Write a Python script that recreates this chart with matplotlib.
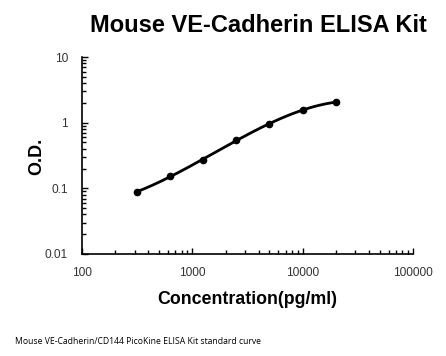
import numpy as np
import matplotlib
matplotlib.use("Agg")
import matplotlib.pyplot as plt
from matplotlib.ticker import LogLocator, FixedLocator, NullFormatter

conc = [312.5, 625, 1250, 2500, 5000, 10000, 20000]
od = [0.088, 0.152, 0.271, 0.545, 0.953, 1.57, 2.05]
xticks = [100, 1000, 10000, 100000]
xticklabels = ["100", "1000", "10000", "100000"]
yticks = [0.01, 0.1, 1, 10]
yticklabels = ["0.01", "0.1", "1", "10"]

plt.rcParams['font.family'] = ['Liberation Sans', 'DejaVu Sans']

fig = plt.figure(figsize=(4.46, 3.56), dpi=100)
ax = fig.add_axes([82/446, 1 - 254/356, (413-82)/446, (254-57)/356])

lx = np.log10(conc)
ly = np.log10(od)
coef = np.polyfit(lx, ly, 3)
xs = np.linspace(lx.min(), lx.max(), 200)
ax.plot(10**xs, 10**np.polyval(coef, xs), color='black', lw=2, zorder=2)
ax.plot(conc, od, 'o', color='black', ms=4.5, zorder=3)

ax.set_xscale('log')
ax.set_yscale('log')
ax.set_xlim(100, 100000)
ax.set_ylim(0.01, 10)
ax.xaxis.set_major_locator(FixedLocator(xticks))
ax.set_xticklabels(xticklabels)
ax.yaxis.set_major_locator(FixedLocator(yticks))
ax.set_yticklabels(yticklabels)
ax.xaxis.set_minor_locator(LogLocator(base=10, subs=np.arange(2, 10)))
ax.yaxis.set_minor_locator(LogLocator(base=10, subs=np.arange(2, 10)))
ax.xaxis.set_minor_formatter(NullFormatter())
ax.yaxis.set_minor_formatter(NullFormatter())

for s in ['top', 'right']:
    ax.spines[s].set_visible(False)
for s in ['left', 'bottom']:
    ax.spines[s].set_linewidth(1.2)
ax.tick_params(which='both', direction='in', width=1, colors='black')
ax.tick_params(which='major', length=4, labelsize=8.6, labelcolor='#333333')
ax.tick_params(which='minor', length=3)
ax.tick_params(axis='x', pad=9)
ax.tick_params(axis='y', pad=10)

fig.text(258/446, 1 - 25/356, "Mouse VE-Cadherin ELISA Kit", ha='center', va='center', fontsize=17, fontweight='bold')
fig.text(247/446, 1 - 300/356, "Concentration(pg/ml)", ha='center', va='center', fontsize=12.8, fontweight='bold')
fig.text(37/446, 1 - 156/356, "O.D.", ha='center', va='center', fontsize=13, fontweight='bold', rotation=90)
fig.text(15/446, 1 - 341/356, "Mouse VE-Cadherin/CD144 PicoKine ELISA Kit standard curve", ha='left', va='center', fontsize=6.2, family=['Open Sans', 'DejaVu Sans'])

fig.savefig("out.png", dpi=100)
